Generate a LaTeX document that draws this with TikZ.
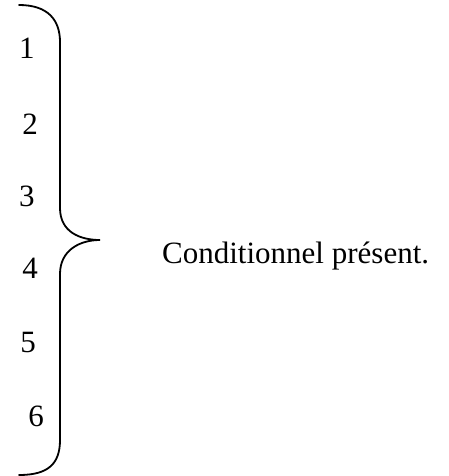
\documentclass[tikz,border=0pt]{standalone}
\usepackage{fontspec}
\setmainfont{Liberation Serif}
\begin{document}
\begin{tikzpicture}[x=1pt,y=-1pt,
  num/.style={font=\fontsize{31}{33}\selectfont, inner sep=0pt},
  lbl/.style={font=\fontsize{31}{33}\selectfont, inner sep=0pt, anchor=base west},
  brace/.style={line width=1.8pt, line cap=round}]
\useasboundingbox (0,0) rectangle (449,476);
\node[num] (n1) at (27,48) {1};
\node[num] (n2) at (30,124) {2};
\node[num] (n3) at (27,196) {3};
\node[num] (n4) at (30,268) {4};
\node[num] (n5) at (28,342) {5};
\node[num] (n6) at (36,416) {6};
\node[lbl] (t) at (162,263) {Conditionnel présent.};
\coordinate (top) at (19,5);
\coordinate (tip) at (100,240);
\coordinate (bot) at (19,475);
\draw[brace] (top) .. controls (48,5) and (60,20) .. (60,42)
  -- (60,208) .. controls (60,232) and (80,240) .. (tip)
  .. controls (80,240) and (60,250) .. (60,274)
  -- (60,440) .. controls (60,464) and (48,475) .. (bot);
\end{tikzpicture}
\end{document}
